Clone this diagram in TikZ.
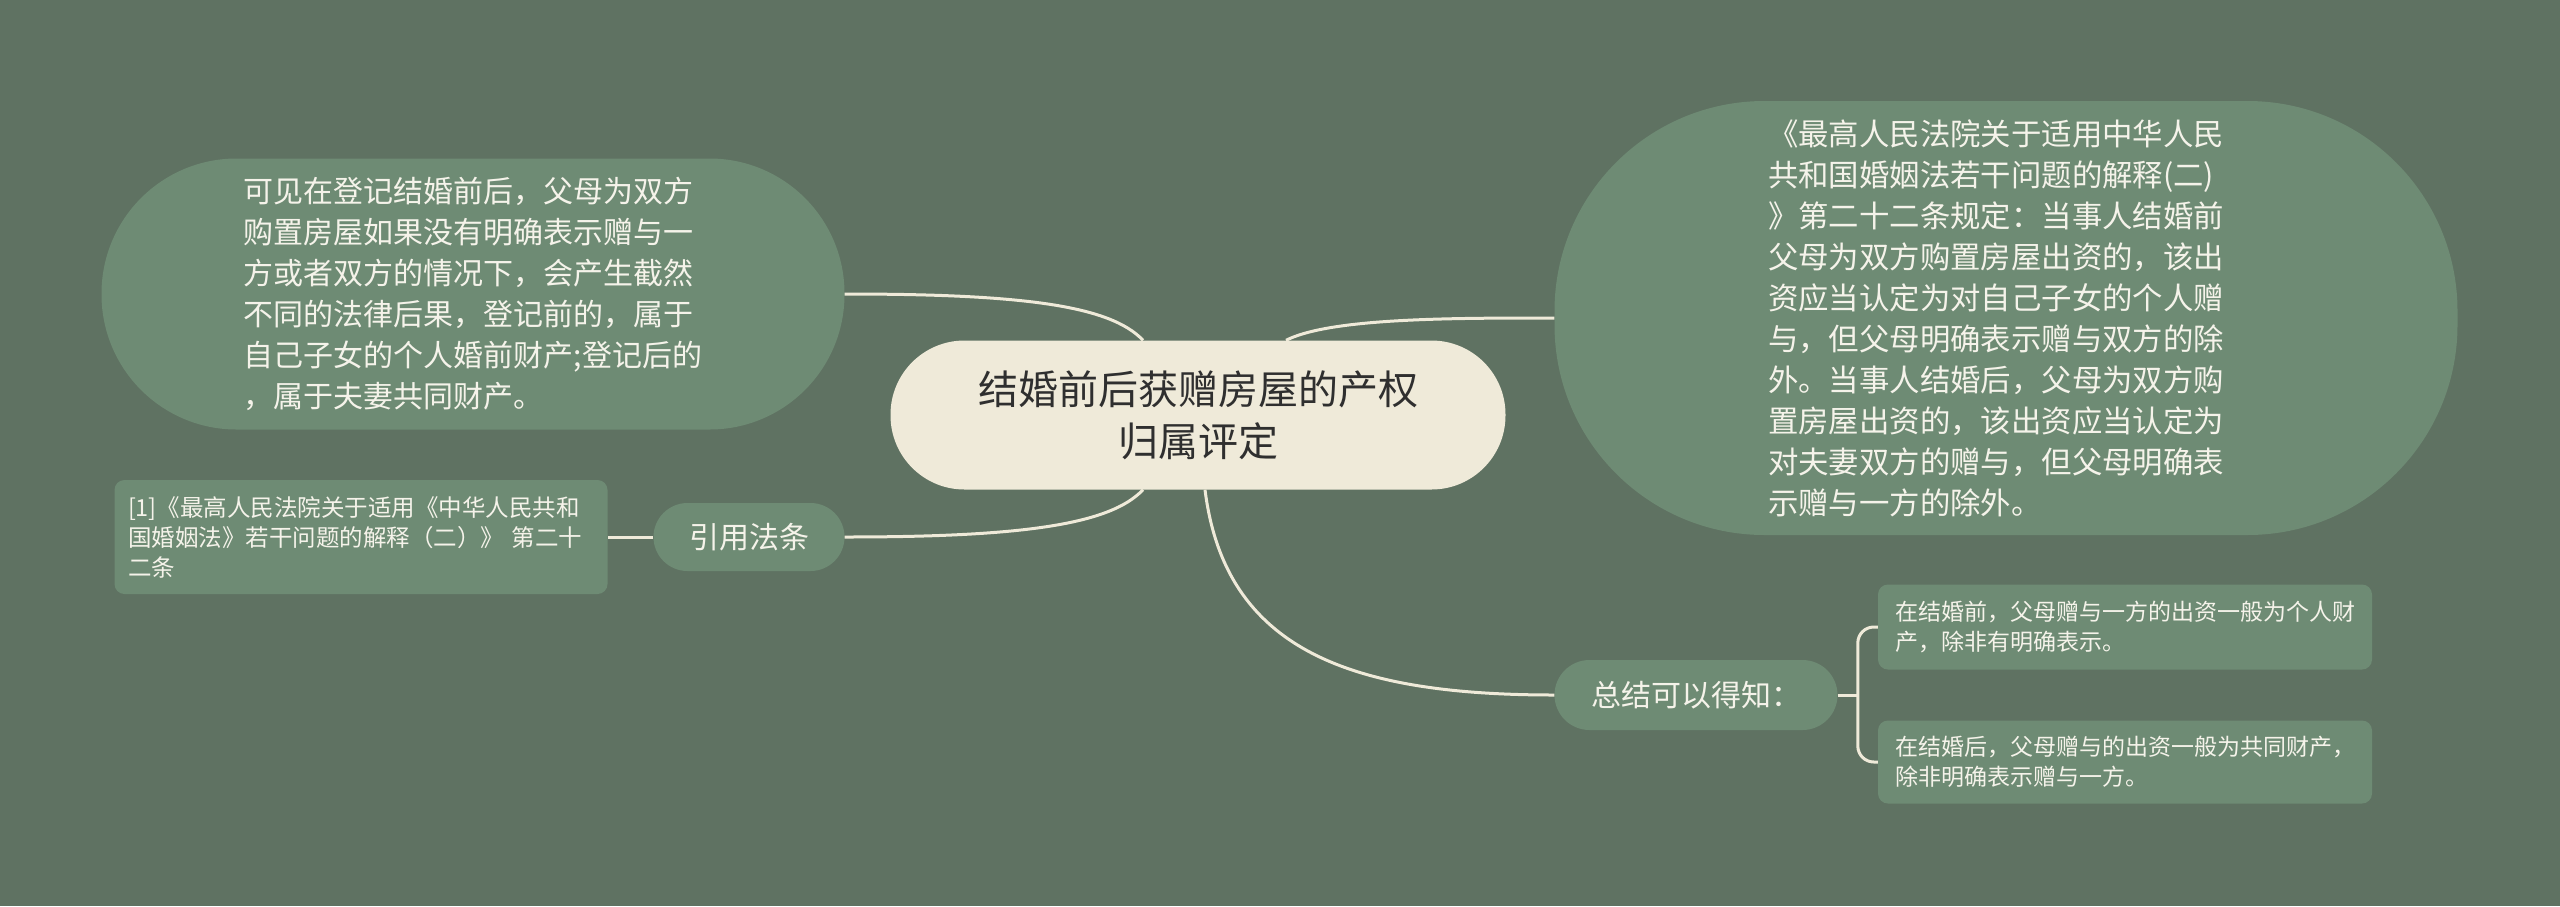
\documentclass[tikz,border=0pt]{standalone}
\usepackage{fontspec}
\setmainfont{Noto Sans CJK SC}
\usetikzlibrary{calc}
\definecolor{bg}{HTML}{5F7262}
\definecolor{bub}{HTML}{6E8B74}
\definecolor{cream}{HTML}{EFEAD9}
\definecolor{wtext}{HTML}{F5F3EA}
\definecolor{dtext}{HTML}{2F2F2F}
\begin{document}
\begin{tikzpicture}[x=1pt,y=-1pt,
  bubble/.style={fill=bub, text=wtext, align=left, inner sep=0pt, font=\fontsize{30}{41}\selectfont},
  pill/.style={fill=bub, text=wtext, align=center, inner sep=0pt, font=\fontsize{30}{36}\selectfont},
  smallbox/.style={fill=bub, text=wtext, align=left, inner sep=0pt, rounded corners=10pt, font=\fontsize{23}{29.5}\selectfont},
  centralbox/.style={fill=cream, text=dtext, align=center, inner sep=0pt, font=\fontsize{40}{52}\selectfont},
  conn/.style={draw=cream, line width=3pt}]
\fill[bg] (0,0) rectangle (2560,906);
\useasboundingbox (0,0) rectangle (2560,906);

\node[centralbox, minimum width=615pt, minimum height=149pt, rounded corners=74pt] (c) at (1198,415) {结婚前后获赠房屋的产权\\归属评定};

\node[bubble, minimum width=743pt, minimum height=271pt, rounded corners=135pt] (lb) at (473,294) {可见在登记结婚前后，父母为双方\\购置房屋如果没有明确表示赠与一\\方或者双方的情况下，会产生截然\\不同的法律后果，登记前的，属于\\自己子女的个人婚前财产;登记后的\\，属于夫妻共同财产。};

\node[bubble, minimum width=903pt, minimum height=434pt, rounded corners=210pt, text width=476pt, font=\fontsize{30.4}{41}\selectfont] (rb) at (2006,318) {《最高人民法院关于适用中华人民\\共和国婚姻法若干问题的解释(二)\\》第二十二条规定：当事人结婚前\\父母为双方购置房屋出资的，该出\\资应当认定为对自己子女的个人赠\\与，但父母明确表示赠与双方的除\\外。当事人结婚后，父母为双方购\\置房屋出资的，该出资应当认定为\\对夫妻双方的赠与，但父母明确表\\示赠与一方的除外。};

\node[pill, minimum width=191pt, minimum height=68pt, rounded corners=34pt] (yy) at (749,537) {引用法条};
\node[smallbox, minimum width=493pt, minimum height=114pt, text width=466pt, font=\fontsize{23.5}{30}\selectfont] (ref) at (361,537) {[1]《最高人民法院关于适用《中华人民共和\\国婚姻法》若干问题的解释（二）》 第二十\\二条};

\node[pill, minimum width=283pt, minimum height=70pt, rounded corners=35pt] (zj) at (1696,695) {总结可以得知：};
\node[smallbox, minimum width=494pt, minimum height=85pt] (b1) at (2125,627) {在结婚前，父母赠与一方的出资一般为个人财\\产，除非有明确表示。};
\node[smallbox, minimum width=494pt, minimum height=83pt] (b2) at (2125,762) {在结婚后，父母赠与的出资一般为共同财产，\\除非明确表示赠与一方。};

\coordinate (ctl) at ($(c.north)+(-55,0)$);
\coordinate (ctr) at ($(c.north)+(88,0)$);
\coordinate (cbl) at ($(c.south)+(-55,0)$);
\coordinate (cbr) at ($(c.south)+(7,0)$);
\coordinate (br) at (1858,695);

\draw[conn] (lb.east) .. controls (1020,294) and (1110,305) .. (ctl);
\draw[conn] (yy.east) .. controls (1020,537) and (1110,525) .. (cbl);
\draw[conn] (ctr) .. controls (1330,318) and (1450,318) .. (rb.west);
\draw[conn] (cbr) .. controls (1225,650) and (1350,695) .. (zj.west);
\draw[conn] (yy.west) -- (ref.east);
\draw[conn] (zj.east) -- (br);
\draw[conn, rounded corners=16pt] (b1.west) -- ++(-20,0) |- (b2.west);
\end{tikzpicture}
\end{document}
